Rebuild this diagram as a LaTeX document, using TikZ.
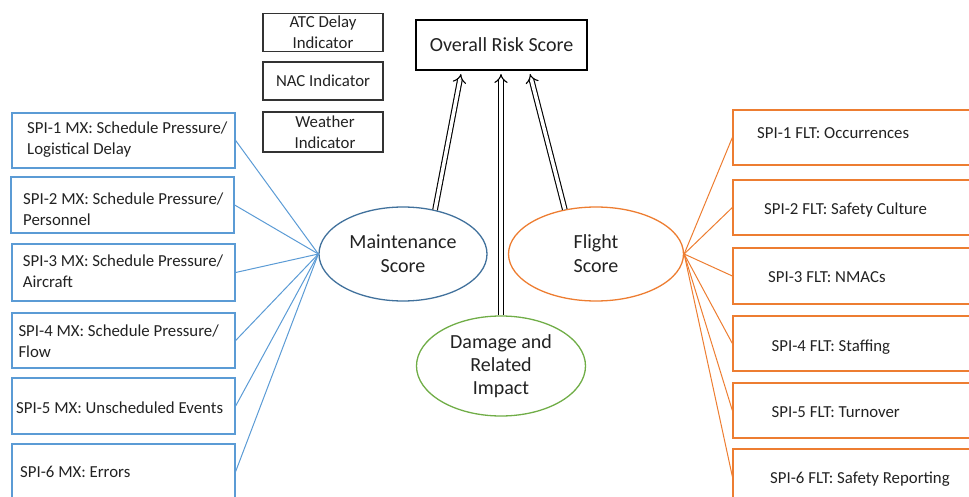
\documentclass[tikz,border=0pt]{standalone}
\usepackage{fontspec}
\setmainfont{Carlito}
\usetikzlibrary{shapes.geometric,arrows.meta,calc}
\definecolor{mxblue}{HTML}{5B9BD5}
\definecolor{mxdark}{HTML}{41719C}
\definecolor{fltor}{HTML}{ED7D31}
\definecolor{dmggr}{HTML}{70AD47}
\definecolor{txt}{HTML}{222222}
\begin{document}
\begin{tikzpicture}[x=1pt,y=-1pt,
  boxtext/.style={text=txt, inner sep=0pt, font=\fontsize{16.8}{21}\selectfont, align=left, anchor=west},
  lbox/.style={draw=mxblue, line width=1.3pt, minimum width=223pt, inner sep=0pt},
  rbox/.style={draw=fltor, line width=1.3pt, minimum width=257pt, inner sep=0pt},
  tbox/.style={draw=black!80, line width=1.2pt, minimum width=120pt, inner sep=0pt, text=txt,
    font=\fontsize{16.8}{20.6}\selectfont, align=center},
  score/.style={ellipse, line width=1.3pt, inner sep=0pt, text=txt, align=center,
    font=\fontsize{20}{24}\selectfont},
  mxline/.style={draw=mxblue, line width=1pt},
  fltline/.style={draw=fltor, line width=1pt},
  dbl/.style={draw=black, double=white, line width=1.1pt, double distance=3.5pt,
    -{Implies[length=5pt, width=12pt]}}
]
\useasboundingbox (0,0) rectangle (969,497);
\begin{scope}
\clip (0,0) rectangle (969,497);

% top indicator boxes
\node[tbox, minimum height=38.5pt] (atc) at (323,32.5) {ATC Delay\\Indicator};
\node[tbox, minimum height=38pt] (nac) at (323,81) {NAC Indicator};
\node[tbox, minimum height=40pt] (wx) at (323,132) {\hspace*{4pt}Weather\\\hspace*{4pt}Indicator};

% overall
\node[draw=black, line width=2pt, minimum width=171pt, minimum height=50pt, inner sep=0pt,
  text=txt, font=\fontsize{20}{24}\selectfont] (overall) at (501.5,45) {Overall Risk Score};

% ellipses
\node[score, draw=mxdark, minimum width=168pt, minimum height=94pt] (maint) at (403,254) {Maintenance\\Score};
\node[score, draw=fltor, minimum width=175pt, minimum height=94pt] (flight) at (596,254) {Flight\\Score};
\node[score, draw=dmggr, minimum width=169pt, minimum height=100pt,
  font=\fontsize{20}{23.3}\selectfont] (dmg) at (501,366) {Damage and\\Related\\Impact};

% left boxes
\node[lbox, minimum height=55pt] (m1) at (123.5,140.5) {};
\node[lbox, minimum height=56pt] (m2) at (122.5,205) {};
\node[lbox, minimum height=57pt] (m3) at (123.5,272.5) {};
\node[lbox, minimum height=55pt] (m4) at (123.5,340.5) {};
\node[lbox, minimum height=56pt] (m5) at (123.5,406) {};
\node[lbox, minimum height=55pt] (m6) at (123.5,471.5) {};
\node[boxtext] (m1t) at (27,140) {SPI-1 MX: Schedule Pressure/\\Logistical Delay};
\node[boxtext] (m2t) at (23,209.7) {SPI-2 MX: Schedule Pressure/\\Personnel};
\node[boxtext] (m3t) at (22.7,271.7) {SPI-3 MX: Schedule Pressure/\\Aircraft};
\node[boxtext] (m4t) at (18.3,341.7) {SPI-4 MX: Schedule Pressure/\\Flow};
\node[boxtext] (m5t) at (16,407.3) {SPI-5 MX: Unscheduled Events};
\node[boxtext] (m6t) at (20,471.7) {SPI-6 MX: Errors};

% right boxes
\node[rbox, minimum height=55pt] (f1) at (861.5,137.5) {};
\node[rbox, minimum height=55pt] (f2) at (861.5,207.5) {};
\node[rbox, minimum height=56pt] (f3) at (861.5,276) {};
\node[rbox, minimum height=55pt] (f4) at (861.5,343.5) {};
\node[rbox, minimum height=55pt] (f5) at (861.5,410.5) {};
\node[rbox, minimum height=55pt] (f6) at (861.5,476.5) {};
\node[boxtext] (f1t) at (757,133) {SPI-1 FLT: Occurrences};
\node[boxtext] (f2t) at (764,210) {SPI-2 FLT: Safety Culture};
\node[boxtext] (f3t) at (768,276.7) {SPI-3 FLT: NMACs};
\node[boxtext] (f4t) at (771.5,346.7) {SPI-4 FLT: Staffing};
\node[boxtext] (f5t) at (771.5,411.7) {SPI-5 FLT: Turnover};
\node[boxtext] (f6t) at (770,479.3) {SPI-6 FLT: Safety Reporting};

% connectors
\foreach \b in {m1,m2,m3,m4,m5,m6} \draw[mxline] (\b.east) -- (maint.west);
\foreach \b in {f1,f2,f3,f4,f5,f6} \draw[fltline] (flight.east) -- (\b.west);

% double arrows
\draw[dbl] (maint.54) -- ($(overall.south west)+(46,3)$);
\draw[dbl] (dmg.north) -- ($(dmg.north |- overall.south)+(0,3)$);
\draw[dbl] (flight.125) -- ($(overall.south west)+(115,3)$);
\end{scope}
\end{tikzpicture}
\end{document}
